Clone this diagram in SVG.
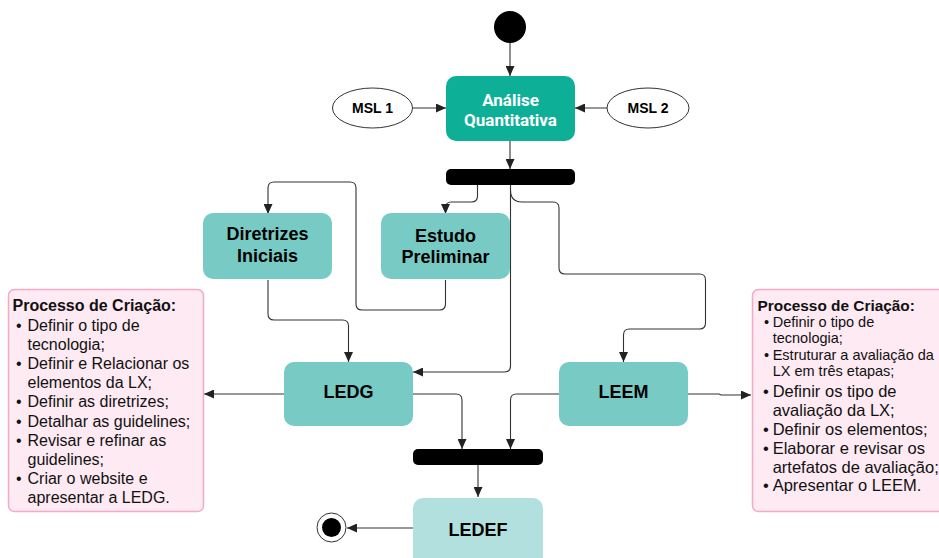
<svg xmlns="http://www.w3.org/2000/svg" width="939" height="558" viewBox="0 0 939 558">
  <style>
    .act { fill: #77CBC4; }
    .lbl { font-family: "Liberation Sans", Arial, sans-serif; font-weight: bold; font-size: 18px; fill: #000; text-anchor: middle; }
    .msl { font-family: "Liberation Sans", Arial, sans-serif; font-weight: bold; font-size: 14px; fill: #000; text-anchor: middle; }
    .note { fill: #FDEAF2; stroke: #F4A9C8; stroke-width: 1.5; }
    .ntitle { font-family: "Liberation Sans", Arial, sans-serif; font-weight: bold; fill: #111; }
    .ntext { font-family: "Liberation Sans", Arial, sans-serif; fill: #111; }
    .edge { fill: none; stroke: #333; stroke-width: 1.1; marker-end: url(#arrow); }
    .bar { fill: #000; }
  </style>
  <defs>
    <marker id="arrow" markerUnits="userSpaceOnUse" markerWidth="10" markerHeight="9" refX="10" refY="4.5" orient="auto">
      <path d="M0,0 L10,4.5 L0,9 z" fill="#222"/>
    </marker>
  </defs>

  <rect width="939" height="558" fill="#fff"/>

  <!-- connectors -->
  <g id="connectors">
    <path class="edge" d="M510,43 V76"/>
    <path class="edge" d="M413,108 H446"/>
    <path class="edge" d="M608,108 H575"/>
    <path class="edge" d="M510,141 V169"/>
    <!-- fork to Estudo Preliminar -->
    <path class="edge" d="M477.5,185 V196 Q477.5,202 471.5,202 H451.5 Q445.5,202 445.5,208 V214"/>
    <!-- Estudo Preliminar to Diretrizes Iniciais -->
    <path class="edge" d="M445.5,280 V304 Q445.5,310 439.5,310 H362 Q356,310 356,304 V188 Q356,182 350,182 H274 Q268,182 268,188 V214"/>
    <!-- Diretrizes Iniciais to LEDG -->
    <path class="edge" d="M268,280 V314 Q268,320 274,320 H342.5 Q348.5,320 348.5,326 V362"/>
    <!-- fork to LEDG -->
    <path class="edge" d="M510.5,185 V366 Q510.5,372 504.5,372 H413"/>
    <!-- fork to LEEM -->
    <path class="edge" d="M510.5,190 Q510.5,202 522,202 H553 Q559,202 559,208 V268 Q559,274 565,274 H699.5 Q705.5,274 705.5,280 V323 Q705.5,329 699.5,329 H629.5 Q623.5,329 623.5,335 V362"/>
    <!-- LEDG to its note -->
    <path class="edge" d="M284,394 H204"/>
    <!-- LEDG to join -->
    <path class="edge" d="M413,394 H456 Q462,394 462,400 V449"/>
    <!-- LEEM to join -->
    <path class="edge" d="M559,394 H516.5 Q510.5,394 510.5,400 V449"/>
    <!-- LEEM to its note -->
    <path class="edge" d="M688,394 H719 L721,395 H751"/>
    <!-- join to LEDEF -->
    <path class="edge" d="M478,465 V497"/>
    <!-- LEDEF to final -->
    <path class="edge" d="M414,528 H347"/>
  </g>

  <g id="start">
    <circle cx="510" cy="27" r="16" fill="#000"/>
  </g>

  <g id="analise">
    <rect x="446" y="76" width="129" height="65" rx="10" fill="#0DB096"/>
    <text x="510.5" y="106" font-family="Roboto, 'Liberation Sans', sans-serif" font-weight="bold" font-size="17" fill="#fff" text-anchor="middle">Análise</text>
    <text x="510.5" y="126" font-family="Roboto, 'Liberation Sans', sans-serif" font-weight="bold" font-size="17" fill="#fff" text-anchor="middle">Quantitativa</text>
  </g>

  <g id="msl1">
    <ellipse cx="372.5" cy="108" rx="40" ry="20" fill="#fff" stroke="#333" stroke-width="1"/>
    <text class="msl" x="372.5" y="113">MSL 1</text>
  </g>

  <g id="msl2">
    <ellipse cx="648" cy="108" rx="41" ry="20" fill="#fff" stroke="#333" stroke-width="1"/>
    <text class="msl" x="648" y="113">MSL 2</text>
  </g>

  <g id="fork">
    <rect class="bar" x="446" y="169" width="129" height="16" rx="5"/>
  </g>

  <g id="diretrizes">
    <rect class="act" x="203" y="213" width="129" height="66" rx="10"/>
    <text class="lbl" x="267.5" y="240">Diretrizes</text>
    <text class="lbl" x="267.5" y="262">Iniciais</text>
  </g>

  <g id="estudo">
    <rect class="act" x="381" y="213" width="129" height="66" rx="10"/>
    <text class="lbl" x="445.5" y="241.5">Estudo</text>
    <text class="lbl" x="445.5" y="263">Preliminar</text>
  </g>

  <g id="ledg">
    <rect class="act" x="284" y="362" width="129" height="64" rx="10"/>
    <text class="lbl" x="348.5" y="398">LEDG</text>
  </g>

  <g id="leem">
    <rect class="act" x="559" y="362" width="129" height="64" rx="10"/>
    <text class="lbl" x="623.5" y="398">LEEM</text>
  </g>

  <g id="join">
    <rect class="bar" x="413" y="449" width="130" height="16" rx="5"/>
  </g>

  <g id="ledef">
    <rect x="413" y="498" width="130" height="72" rx="10" fill="#B2E0DF"/>
    <text class="lbl" x="478" y="536">LEDEF</text>
  </g>

  <g id="final">
    <circle cx="331.5" cy="527.5" r="14.5" fill="#fff" stroke="#333" stroke-width="1"/>
    <circle cx="331.5" cy="527.5" r="9.5" fill="#000"/>
  </g>

  <g id="note-ledg">
    <rect class="note" x="8.5" y="289.5" width="195" height="222" rx="6"/>
    <text class="ntitle" x="12.5" y="311" font-size="16">Processo de Criação:</text>
    <g class="ntext" font-size="16">
      <text x="16" y="330.5">•</text><text x="27.5" y="330.5">Definir o tipo de</text>
      <text x="27.5" y="349.7">tecnologia;</text>
      <text x="16" y="368.9">•</text><text x="27.5" y="368.9">Definir e Relacionar os</text>
      <text x="27.5" y="388.1">elementos da LX;</text>
      <text x="16" y="407.3">•</text><text x="27.5" y="407.3">Definir as diretrizes;</text>
      <text x="16" y="426.5">•</text><text x="27.5" y="426.5">Detalhar as guidelines;</text>
      <text x="16" y="445.7">•</text><text x="27.5" y="445.7">Revisar e refinar as</text>
      <text x="27.5" y="464.9">guidelines;</text>
      <text x="16" y="484.1">•</text><text x="27.5" y="484.1">Criar o website e</text>
      <text x="27.5" y="503.3">apresentar a LEDG.</text>
    </g>
  </g>

  <g id="note-leem">
    <rect class="note" x="752.5" y="289.5" width="200" height="222" rx="6"/>
    <text class="ntitle" x="757.5" y="310.5" font-size="15.4">Processo de Criação:</text>
    <g class="ntext" font-size="14.5">
      <text x="764" y="326.7">•</text><text x="772.7" y="326.7">Definir o tipo de</text>
      <text x="772.7" y="342.7">tecnologia;</text>
      <text x="764" y="360">•</text><text x="772.7" y="360">Estruturar a avaliação da</text>
      <text x="772.7" y="376">LX em três etapas;</text>
    </g>
    <g class="ntext" font-size="16.5">
      <text x="763" y="397">•</text><text x="772.7" y="397">Definir os tipo de</text>
      <text x="772.7" y="416">avaliação da LX;</text>
      <text x="763" y="435">•</text><text x="772.7" y="435">Definir os elementos;</text>
      <text x="763" y="453.5">•</text><text x="772.7" y="453.5">Elaborar e revisar os</text>
      <text x="772.7" y="472.5">artefatos de avaliação;</text>
      <text x="763" y="491">•</text><text x="772.7" y="491">Apresentar o LEEM.</text>
    </g>
  </g>
</svg>
